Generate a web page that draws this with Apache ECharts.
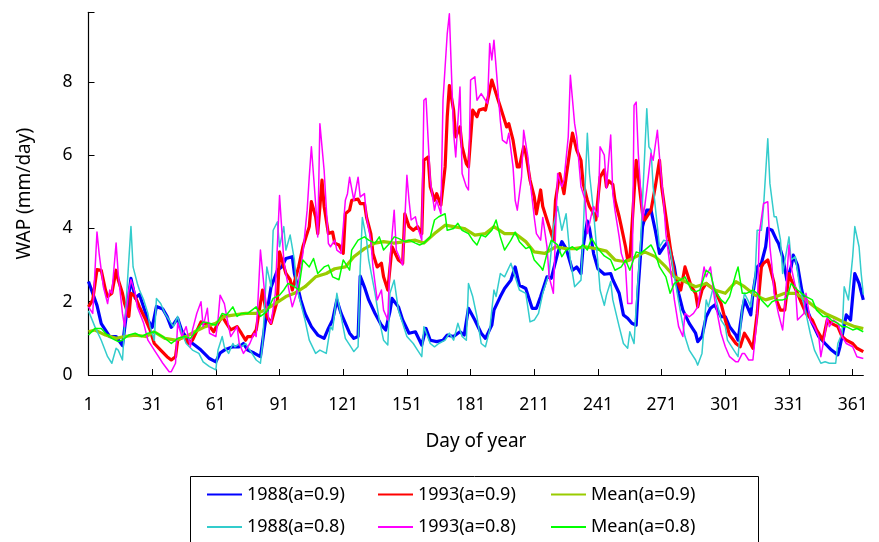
<!DOCTYPE html>
<html>
<head>
<meta charset="utf-8">
<script src="https://cdn.jsdelivr.net/npm/echarts@6/dist/echarts.min.js"></script>
<style>
html,body{margin:0;padding:0;background:#fff;}
#c{width:879px;height:542px;}
</style>
</head>
<body>
<div id="c"></div>
<script>
// Day-of-year categories (1..366) and tick labels shown every 30 days
const days = Array.from({length: 366}, (_, i) => String(i + 1));
const xTickLabels = ['1','31','61','91','121','151','181','211','241','271','301','331','361'];
const yTickLabels = ['0','2','4','6','8'];

const names = ['1988(a=0.9)','1993(a=0.9)','Mean(a=0.9)','1988(a=0.8)','1993(a=0.8)','Mean(a=0.8)'];

// [day, WAP mm/day]
const y1988_09 = [[1,2.55],[5,1.9],[7,1.4],[11,1.05],[14,1.05],[17,0.8],[21,2.64],[23,2.1],[25,2.2],[27,1.85],[29,1.5],[31,1.3],[33,1.87],[36,1.8],[38,1.6],[40,1.3],[43,1.55],[45,1.2],[48,0.95],[51,0.82],[54,0.68],[58,0.45],[61,0.36],[63,0.6],[65,0.68],[69,0.77],[72,0.77],[74,0.86],[76,0.68],[79,0.6],[82,0.5],[84,1.32],[87,2.4],[90,2.86],[92,2.95],[94,3.18],[97,3.23],[98,2.77],[101,2.05],[103,1.68],[106,1.32],[109,1.09],[112,1.0],[114,1.27],[116,1.5],[118,2.05],[120,1.68],[124,1.14],[126,1.0],[128,1.05],[129,2.7],[131,2.4],[133,2.05],[136,1.68],[139,1.36],[141,1.23],[143,1.73],[144,2.09],[147,1.86],[149,1.5],[152,1.14],[155,1.18],[158,0.82],[160,1.27],[162,0.95],[165,0.91],[168,0.95],[170,1.09],[173,1.05],[176,1.18],[178,1.09],[180,1.82],[183,1.5],[186,1.14],[188,1.0],[191,1.36],[192,1.77],[195,2.14],[197,2.36],[200,2.59],[202,2.95],[204,2.45],[207,2.36],[210,1.82],[212,1.82],[214,2.14],[217,2.68],[219,2.64],[222,3.32],[224,3.64],[226,3.45],[229,2.86],[231,2.95],[233,2.77],[234,3.5],[236,4.2],[237,4.0],[239,3.3],[241,2.9],[244,2.75],[247,2.77],[248,2.6],[251,2.23],[253,1.64],[255,1.55],[257,1.41],[259,1.36],[260,2.41],[262,4.05],[264,4.5],[266,4.5],[268,3.95],[270,3.32],[272,3.5],[274,3.64],[277,2.95],[279,2.23],[281,1.77],[284,1.41],[287,1.14],[288,0.91],[290,1.05],[292,1.59],[294,1.82],[296,1.91],[299,1.59],[301,1.59],[303,1.32],[306,1.09],[307,0.95],[309,1.77],[310,2.05],[313,1.64],[314,2.23],[316,2.95],[318,3.05],[320,3.5],[321,4.0],[323,3.95],[325,3.7],[326,3.6],[328,3.23],[330,2.59],[332,2.95],[333,3.27],[335,3.0],[337,2.32],[339,1.86],[342,1.41],[345,1.05],[348,0.86],[351,0.68],[354,0.55],[355,0.77],[358,1.64],[360,1.5],[362,2.77],[364,2.5],[366,2.05]];

const y1993_09 = [[1,1.86],[3,2.05],[5,2.88],[7,2.86],[9,2.32],[10,2.14],[12,2.23],[14,2.86],[15,2.6],[17,2.23],[18,1.95],[20,1.6],[21,2.23],[23,2.14],[25,1.86],[28,1.5],[30,1.23],[32,0.86],[35,0.68],[38,0.5],[40,0.41],[42,0.5],[43,0.95],[46,1.05],[48,0.86],[50,0.95],[54,1.45],[55,1.41],[57,1.41],[60,1.18],[62,1.41],[64,1.6],[66,1.41],[68,1.23],[71,1.32],[73,1.14],[75,0.95],[76,1.05],[78,1.05],[80,1.23],[83,2.32],[85,1.6],[87,1.41],[90,2.05],[91,3.36],[94,2.77],[96,2.6],[97,2.32],[100,2.95],[102,3.5],[105,4.05],[106,4.73],[108,4.32],[109,3.86],[111,5.32],[112,4.6],[114,3.86],[116,3.9],[117,3.6],[119,3.55],[121,3.32],[122,4.4],[124,4.5],[125,4.77],[128,4.8],[129,4.68],[131,4.68],[132,4.3],[134,3.86],[135,3.32],[137,2.95],[139,3.05],[140,2.68],[142,2.32],[144,3.5],[147,3.14],[149,3.05],[150,4.4],[152,4.05],[154,3.95],[156,4.05],[158,3.86],[159,5.86],[161,5.95],[162,5.14],[164,4.77],[165,4.95],[167,4.64],[169,5.68],[170,7.05],[171,7.9],[173,7.23],[174,6.5],[176,6.77],[177,6.23],[179,5.77],[180,5.68],[182,7.23],[184,7.05],[185,7.23],[187,7.27],[188,7.23],[190,7.77],[191,8.05],[193,7.68],[195,7.32],[196,7.14],[198,6.77],[199,6.86],[201,6.41],[203,5.68],[204,5.68],[206,6.23],[207,6.05],[209,5.32],[211,4.86],[212,4.4],[214,5.05],[215,4.6],[217,4.23],[218,4.05],[220,3.68],[221,4.77],[223,5.5],[225,4.95],[226,5.4],[228,6.23],[229,6.6],[231,6.14],[233,5.86],[234,5.23],[236,4.77],[237,4.6],[239,4.4],[240,4.23],[242,5.4],[244,5.6],[245,5.14],[246,5.3],[248,5.2],[249,4.77],[251,4.32],[252,4.05],[254,3.5],[255,3.14],[256,3.14],[258,4.95],[259,5.86],[260,5.4],[262,4.4],[263,4.23],[266,4.5],[268,5.14],[270,5.86],[271,5.14],[273,4.32],[275,3.5],[277,2.77],[280,2.32],[282,2.95],[285,2.41],[287,2.23],[288,1.86],[290,2.32],[292,2.5],[294,2.41],[296,2.32],[299,1.95],[301,1.5],[303,1.09],[306,0.86],[308,0.77],[310,1.14],[312,0.95],[314,0.73],[316,1.68],[318,2.95],[319,3.05],[321,3.14],[322,2.95],[324,2.5],[325,2.05],[327,1.77],[329,1.77],[331,2.77],[332,2.6],[335,2.23],[337,1.95],[339,1.68],[342,1.5],[344,1.23],[347,0.95],[349,1.5],[351,1.41],[354,1.32],[356,1.05],[358,0.95],[361,0.86],[363,0.73],[366,0.64]];

const mean_09 = [[1,1.18],[4,1.23],[9,1.09],[14,1.0],[18,1.05],[23,1.09],[28,1.05],[32,1.18],[37,1.0],[42,0.95],[47,1.05],[51,1.18],[56,1.32],[61,1.41],[65,1.6],[70,1.64],[75,1.68],[80,1.68],[84,1.77],[89,1.95],[94,2.14],[98,2.23],[103,2.41],[108,2.68],[113,2.77],[117,2.9],[122,2.95],[126,3.23],[131,3.45],[136,3.6],[140,3.64],[145,3.6],[150,3.64],[155,3.68],[159,3.6],[164,3.86],[169,4.09],[173,4.05],[178,4.0],[183,3.82],[188,3.86],[192,4.05],[197,3.86],[202,3.86],[207,3.64],[211,3.36],[216,3.32],[221,3.5],[226,3.45],[230,3.45],[235,3.5],[240,3.45],[245,3.38],[249,3.14],[254,3.09],[259,3.23],[263,3.36],[268,3.23],[273,2.95],[277,2.68],[282,2.55],[287,2.41],[292,2.5],[296,2.32],[301,2.23],[306,2.55],[310,2.41],[315,2.18],[320,2.05],[325,2.14],[329,2.23],[334,2.23],[339,2.05],[343,1.86],[348,1.68],[353,1.55],[358,1.41],[362,1.32],[366,1.27]];

const y1988_08 = [[1,1.75],[4,1.32],[7,0.95],[10,0.5],[12,0.32],[14,0.73],[15,0.68],[17,0.41],[19,2.23],[21,4.05],[22,2.95],[24,2.5],[25,2.32],[27,2.05],[29,1.68],[30,1.32],[32,0.95],[33,2.09],[35,1.95],[37,1.68],[40,1.41],[41,1.32],[43,1.6],[45,1.14],[47,0.86],[50,0.68],[53,0.59],[55,0.36],[58,0.23],[61,0.14],[62,0.68],[64,1.05],[65,0.77],[67,0.59],[69,0.86],[70,0.77],[72,0.86],[73,0.77],[75,0.86],[76,0.77],[78,0.59],[80,0.41],[82,0.32],[83,0.86],[85,2.95],[87,2.41],[88,3.95],[90,4.18],[91,3.5],[93,4.05],[94,3.41],[96,3.82],[98,3.14],[99,2.41],[101,1.95],[103,1.5],[105,0.95],[108,0.59],[110,0.68],[113,0.59],[115,1.32],[116,1.23],[118,2.23],[120,1.6],[122,1.0],[124,0.82],[126,0.64],[128,0.77],[129,2.95],[130,4.3],[132,3.68],[133,3.14],[136,2.23],[138,1.5],[140,0.95],[142,0.82],[143,2.23],[145,2.59],[147,1.77],[149,1.41],[151,1.05],[154,0.86],[156,0.68],[158,0.5],[159,1.32],[162,0.86],[164,0.77],[166,0.86],[169,0.95],[171,1.14],[173,0.95],[175,1.41],[177,1.05],[179,0.95],[180,2.5],[182,2.14],[184,1.59],[186,0.86],[188,0.77],[190,1.23],[192,2.32],[193,2.14],[195,2.77],[197,2.68],[200,3.05],[201,2.86],[203,2.5],[204,2.32],[207,2.23],[209,1.45],[211,1.5],[213,1.68],[215,2.23],[218,2.77],[220,4.05],[222,4.6],[224,3.95],[226,4.4],[228,3.14],[230,2.41],[233,2.59],[234,3.86],[236,6.6],[237,5.5],[239,4.4],[241,3.05],[242,2.32],[244,1.9],[245,2.18],[247,2.55],[248,2.05],[251,1.32],[253,0.86],[255,0.73],[256,1.18],[258,0.86],[259,1.86],[261,3.5],[262,4.77],[264,7.27],[265,6.23],[266,6.14],[267,5.14],[269,4.05],[270,3.5],[272,3.68],[274,3.64],[275,3.41],[277,2.68],[280,1.68],[282,1.05],[284,0.68],[287,0.41],[288,0.27],[290,0.59],[292,2.05],[293,1.86],[295,2.32],[296,2.23],[299,1.5],[301,1.32],[302,0.95],[305,0.68],[307,0.5],[309,1.86],[310,2.23],[312,2.0],[313,1.86],[315,2.68],[316,3.95],[318,3.95],[319,4.59],[321,6.45],[322,5.23],[324,4.32],[325,4.32],[327,3.68],[328,2.77],[331,3.77],[332,3.14],[334,3.23],[336,2.41],[339,1.68],[341,1.14],[343,0.68],[346,0.32],[348,0.36],[350,0.32],[353,0.32],[354,0.86],[356,1.14],[357,2.41],[359,2.05],[361,3.23],[362,4.05],[364,3.5],[365,2.77],[366,2.2]];

const y1993_08 = [[1,1.86],[3,1.68],[5,3.9],[6,3.32],[8,2.41],[10,1.95],[11,2.32],[12,2.23],[14,3.6],[15,2.77],[17,1.68],[18,1.32],[20,2.32],[21,2.6],[23,2.23],[24,1.86],[27,1.41],[29,0.95],[32,0.68],[34,0.5],[36,0.32],[39,0.09],[40,0.09],[42,0.32],[43,1.41],[45,1.05],[47,1.32],[49,0.77],[50,1.23],[52,1.68],[54,2.0],[55,1.32],[57,1.82],[58,1.14],[61,1.05],[62,1.5],[63,2.18],[65,1.95],[67,1.32],[68,1.05],[71,1.32],[72,0.86],[74,0.59],[76,0.77],[77,0.86],[79,1.14],[80,1.05],[82,3.41],[84,2.23],[86,1.5],[87,1.41],[89,2.23],[91,4.9],[93,3.14],[94,2.77],[96,2.14],[97,1.86],[99,2.23],[101,2.95],[102,3.32],[104,4.5],[105,5.41],[106,6.23],[108,4.68],[109,3.77],[110,6.86],[112,5.59],[114,3.59],[115,3.5],[117,3.68],[118,3.41],[120,3.32],[122,4.77],[123,4.95],[124,5.4],[126,4.77],[128,5.4],[129,4.86],[131,4.95],[132,4.3],[134,3.68],[135,2.95],[137,2.05],[139,2.32],[140,1.77],[142,1.5],[143,3.14],[145,4.5],[146,3.41],[148,3.14],[149,3.0],[151,5.45],[152,4.77],[153,4.23],[155,4.32],[156,4.05],[158,3.68],[159,7.5],[160,7.55],[162,5.32],[164,4.5],[165,4.77],[167,4.4],[168,7.5],[170,9.32],[171,9.86],[173,6.6],[174,5.95],[176,7.86],[177,5.5],[179,5.14],[180,5.05],[181,8.05],[183,8.14],[184,7.5],[186,7.68],[188,7.5],[189,7.41],[190,9.05],[191,8.6],[192,9.14],[194,7.68],[195,6.95],[196,6.41],[198,6.32],[199,6.6],[201,5.68],[202,4.77],[203,4.5],[205,5.4],[206,6.68],[208,5.95],[209,5.32],[211,4.3],[212,3.86],[214,3.68],[215,4.3],[217,3.5],[218,2.68],[220,2.23],[221,3.86],[222,5.5],[224,5.14],[225,5.32],[227,6.5],[228,8.18],[230,6.86],[231,6.5],[233,5.14],[235,4.77],[236,3.86],[238,4.4],[239,4.6],[241,4.32],[242,6.23],[244,6.0],[245,5.1],[247,6.55],[248,4.95],[249,4.5],[251,3.77],[252,3.32],[254,2.95],[255,1.95],[257,1.95],[258,7.36],[259,7.45],[260,6.05],[262,4.23],[263,4.59],[264,5.05],[266,6.05],[267,5.86],[269,6.68],[270,5.95],[272,4.68],[273,3.86],[275,2.95],[277,2.05],[279,1.32],[281,1.05],[282,1.68],[284,1.59],[286,1.68],[288,1.86],[289,2.23],[291,2.95],[292,2.68],[294,2.95],[296,2.05],[299,1.14],[301,0.77],[303,0.5],[306,0.36],[307,0.36],[309,0.59],[310,0.59],[312,0.41],[314,0.41],[316,1.59],[317,3.86],[319,4.68],[321,4.73],[322,3.5],[323,2.95],[324,2.23],[326,1.68],[328,1.23],[329,1.86],[331,3.55],[332,2.95],[334,2.41],[335,1.5],[338,1.68],[339,2.23],[341,1.5],[343,1.32],[345,1.05],[346,0.5],[348,1.14],[349,1.59],[350,1.32],[352,1.5],[354,1.41],[356,1.05],[358,0.86],[361,0.77],[363,0.5],[366,0.45]];

const mean_08 = [[1,1.09],[4,1.27],[7,1.27],[9,1.14],[12,1.0],[15,0.91],[17,0.95],[20,1.09],[23,1.14],[26,1.05],[29,1.14],[32,1.18],[36,1.05],[40,0.86],[43,1.0],[46,1.05],[49,1.0],[52,1.23],[55,1.45],[58,1.41],[61,1.36],[64,1.68],[66,1.64],[69,1.86],[71,1.6],[73,1.68],[76,1.68],[80,1.86],[82,1.6],[85,1.73],[88,2.09],[91,2.18],[93,2.32],[95,2.5],[98,2.41],[100,2.32],[102,3.14],[105,2.95],[107,3.18],[109,2.77],[112,2.95],[114,3.0],[116,2.68],[119,2.6],[121,3.14],[124,2.86],[125,3.41],[128,3.68],[131,3.77],[133,3.68],[136,3.6],[138,3.77],[140,3.41],[143,3.6],[145,3.77],[147,3.73],[150,3.64],[152,3.68],[155,3.6],[157,3.55],[159,3.6],[162,3.77],[164,4.23],[166,4.32],[169,4.4],[170,3.95],[173,4.0],[175,4.14],[177,3.95],[180,3.86],[182,3.68],[184,3.55],[186,3.82],[188,3.77],[191,3.95],[193,4.23],[195,3.77],[197,3.41],[200,3.68],[202,3.9],[204,3.64],[207,3.45],[209,3.5],[211,3.14],[214,2.95],[215,2.86],[217,3.32],[219,3.68],[222,3.55],[224,3.23],[226,3.41],[229,3.5],[231,3.41],[234,3.55],[236,3.41],[238,3.73],[241,3.45],[244,3.25],[247,3.14],[249,2.86],[252,2.95],[254,3.14],[256,2.86],[259,3.36],[261,3.32],[263,3.41],[266,3.55],[268,3.32],[270,2.95],[273,2.68],[275,2.23],[277,2.5],[280,2.6],[282,2.68],[285,2.32],[287,2.27],[289,2.32],[292,2.86],[294,2.77],[296,2.32],[299,2.05],[301,1.95],[303,2.14],[306,2.77],[307,2.95],[309,2.23],[311,2.23],[314,2.32],[316,2.23],[318,2.05],[321,1.86],[323,2.0],[325,2.05],[328,2.05],[330,2.09],[332,2.5],[335,2.32],[337,2.23],[339,2.14],[342,2.05],[344,1.77],[347,1.6],[349,1.6],[351,1.5],[354,1.41],[356,1.32],[358,1.32],[361,1.23],[363,1.27],[366,1.18]];

const FONT = '"Noto Sans", "DejaVu Sans", sans-serif';
const toSeriesData = arr => arr.map(p => [String(p[0]), p[1]]);

function lineSeries(name, data, color, width) {
  return {
    name: name, type: 'line', data: toSeriesData(data),
    symbol: 'none', showSymbol: false, smooth: false,
    lineStyle: {color: color, width: width, join: 'round'},
    itemStyle: {color: color},
    emphasis: {disabled: true}, animation: false
  };
}

const legendBase = {
  orient: 'vertical', top: 485.5, itemWidth: 35, itemHeight: 14, itemGap: 14.6, padding: 0,
  textStyle: {fontFamily: FONT, fontSize: 18, color: '#000'},
  itemStyle: {opacity: 0, borderWidth: 0},
  selectedMode: false
};

const chart = echarts.init(document.getElementById('c'), null, {renderer: 'canvas'});
chart.setOption({
  animation: false,
  backgroundColor: '#fff',
  grid: {left: 88.5, top: 12.3, right: 15.7, bottom: 167, containLabel: false},
  graphic: [{
    type: 'rect', shape: {x: 190.5, y: 476.5, width: 568, height: 80},
    style: {fill: 'none', stroke: '#000', lineWidth: 1}, silent: true, z: 0
  }],
  legend: [
    Object.assign({}, legendBase, {left: 206, data: [names[0], names[3]]}),
    Object.assign({}, legendBase, {left: 377, data: [names[1], names[4]]}),
    Object.assign({}, legendBase, {left: 550, data: [names[2], names[5]]})
  ],
  xAxis: {
    type: 'category', data: days, boundaryGap: false,
    name: 'Day of year', nameLocation: 'middle', nameGap: 57,
    nameTextStyle: {fontFamily: FONT, fontSize: 19, color: '#000'},
    axisLine: {lineStyle: {color: '#000', width: 1.2}},
    axisTick: {inside: true, length: 6, interval: 29, lineStyle: {color: '#000', width: 1}},
    axisLabel: {
      interval: 29, margin: 21, fontFamily: FONT, fontSize: 17.5, color: '#000',
      formatter: v => (xTickLabels.indexOf(v) >= 0 ? v : '')
    },
    splitLine: {show: false}
  },
  yAxis: {
    type: 'value', min: 0, max: 9.9, interval: 2,
    name: 'WAP (mm/day)', nameLocation: 'middle', nameGap: 54, nameRotate: 90,
    nameTextStyle: {fontFamily: FONT, fontSize: 19, color: '#000'},
    axisLine: {show: true, lineStyle: {color: '#000', width: 1.2}},
    axisTick: {show: true, inside: true, length: 6, lineStyle: {color: '#000', width: 1}},
    axisLabel: {
      margin: 16, fontFamily: FONT, fontSize: 17.5, color: '#000',
      formatter: v => (yTickLabels.indexOf(String(v)) >= 0 ? String(v) : '')
    },
    splitLine: {show: false}
  },
  series: [
    lineSeries(names[0], y1988_09, '#0000ff', 3.2),
    lineSeries(names[1], y1993_09, '#ff0000', 3.2),
    lineSeries(names[2], mean_09, '#99cc00', 3.2),
    lineSeries(names[3], y1988_08, '#33cccc', 1.5),
    lineSeries(names[4], y1993_08, '#ff00ff', 1.5),
    lineSeries(names[5], mean_08, '#00ff00', 1.5)
  ]
});
</script>
</body>
</html>
